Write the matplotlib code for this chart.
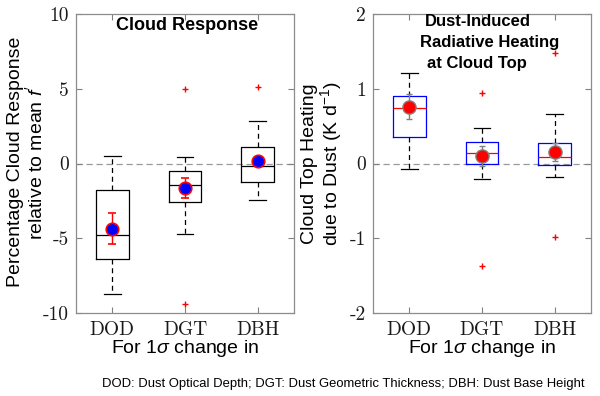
import matplotlib
matplotlib.use("Agg")
import matplotlib.pyplot as plt
import numpy as np

plt.rcParams['font.family'] = 'Liberation Sans'
plt.rcParams['mathtext.fontset'] = 'custom'
plt.rcParams['mathtext.rm'] = 'Liberation Sans'
plt.rcParams['mathtext.it'] = 'Liberation Sans:italic'

######################################
# data
######################################
categories = ["DOD", "DGT", "DBH"]

# left panel: percentage cloud response
cr_whislo = [-8.73, -4.71, -2.41]
cr_q1 = [-6.41, -2.57, -1.23]
cr_med = [-4.75, -1.41, -0.18]
cr_q3 = [-1.74, -0.49, 1.12]
cr_whishi = [0.51, 0.45, 2.86]
cr_fliers = [[], [4.96, -9.42], [5.09]]
cr_mean = [-4.35, -1.63, 0.20]
cr_err = [1.05, 0.66, 0.25]

# right panel: cloud top heating
ht_whislo = [-0.08, -0.21, -0.18]
ht_q1 = [0.36, 0.0, -0.02]
ht_med = [0.746, 0.143, 0.09]
ht_q3 = [0.906, 0.286, 0.277]
ht_whishi = [1.205, 0.478, 0.665]
ht_fliers = [[], [0.94, -1.37], [1.48, -0.98]]
ht_mean = [0.76, 0.10, 0.15]
ht_err = [0.165, 0.13, 0.12]

yticks_left = [-10, -5, 0, 5, 10]
yticks_right = [-2, -1, 0, 1, 2]


def make_stats(lo, q1, med, q3, hi, fliers):
    stats = []
    for i in range(len(categories)):
        stats.append(dict(whislo=lo[i], q1=q1[i], med=med[i], q3=q3[i],
                          whishi=hi[i], fliers=fliers[i]))
    return stats


def style_axes(ax, ylim, yticks):
    ax.set_xlim(0.5, 3.5)
    ax.set_ylim(*ylim)
    ax.set_yticks(yticks)
    ax.set_yticklabels([str(t) for t in yticks])
    ax.set_xticks([1, 2, 3])
    ax.set_xticklabels(categories)
    ax.tick_params(direction='in', top=True, right=True, length=4,
                   color='0.5', labelcolor='0.1', labelsize=14,
                   labelfontfamily='cmr10', width=0.8)
    ax.tick_params(axis='x', pad=6)
    ax.tick_params(axis='y', pad=5)
    for s in ax.spines.values():
        s.set_color('0.55')
        s.set_linewidth(0.9)
    ax.axhline(0, color='0.6', linestyle=(0, (5, 3)), linewidth=0.9, zorder=0)
    ax.set_xlabel(r"For 1$\sigma$ change in", fontsize=14)
    ax.xaxis.set_label_coords(0.5, -0.12)
    ax.xaxis.label.set_va('center')


fig = plt.figure(figsize=(6, 3.96), dpi=100)
ax1 = fig.add_axes([76 / 600, 83 / 396, 218 / 600, 299 / 396])
ax2 = fig.add_axes([373 / 600, 83 / 396, 218 / 600, 299 / 396])

pos = np.arange(1, len(categories) + 1)
whisk = dict(color='black', linestyle=(0, (4, 3)), linewidth=0.9)
caps = dict(color='black', linewidth=0.9)
flier = dict(marker='+', markeredgecolor='red', markersize=4, linestyle='none')

######################################
# left: cloud response
######################################
ax1.bxp(make_stats(cr_whislo, cr_q1, cr_med, cr_q3, cr_whishi, cr_fliers),
        positions=pos, widths=0.45, showfliers=True,
        boxprops=dict(color='black', linewidth=0.9),
        medianprops=dict(color='black', linewidth=0.9),
        whiskerprops=whisk, capprops=caps, flierprops=flier)
ax1.errorbar(pos, cr_mean, yerr=cr_err, fmt='o', color='red', ecolor='red',
             markerfacecolor='blue', markeredgecolor='red', markersize=9,
             markeredgewidth=1.2, elinewidth=1.0, capsize=3, zorder=5)
style_axes(ax1, (-10, 10), yticks_left)
ax1.set_ylabel("Percentage Cloud Response\nrelative to mean $f'$", fontsize=14,
               linespacing=1.0)
ax1.yaxis.set_label_coords(-0.227, 0.505)
ax1.yaxis.label.set_va('center')
ax1.text(0.51, 0.963, "Cloud Response", transform=ax1.transAxes,
         ha='center', va='center', fontsize=13, fontweight='bold')

######################################
# right: cloud top heating
######################################
ax2.bxp(make_stats(ht_whislo, ht_q1, ht_med, ht_q3, ht_whishi, ht_fliers),
        positions=pos, widths=0.45, showfliers=True,
        boxprops=dict(color='blue', linewidth=0.9),
        medianprops=dict(color='red', linewidth=0.9),
        whiskerprops=whisk, capprops=caps, flierprops=flier)
ax2.errorbar(pos, ht_mean, yerr=ht_err, fmt='o', color='0.5', ecolor='0.5',
             markerfacecolor='red', markeredgecolor='0.5', markersize=9.5,
             markeredgewidth=1.0, elinewidth=1.0, capsize=2.5, zorder=5)
style_axes(ax2, (-2, 2), yticks_right)
ax2.set_ylabel("Cloud Top Heating\ndue to Dust (K d$^{-1}$)", fontsize=14,
               linespacing=1.0)
ax2.yaxis.set_label_coords(-0.232, 0.5)
ax2.yaxis.label.set_va('center')
for txt, x, y in [("Dust-Induced", 0.239, 0.974),
                  ("Radiative Heating", 0.216, 0.904),
                  ("at Cloud Top", 0.248, 0.835)]:
    ax2.text(x, y, txt, transform=ax2.transAxes, ha='left', va='center',
             fontsize=12, fontweight='bold')

fig.text(102 / 600, 1 - 384 / 396,
         "DOD: Dust Optical Depth; DGT: Dust Geometric Thickness; DBH: Dust Base Height",
         ha='left', va='center', fontsize=9.4)

fig.savefig("out.png", dpi=100)
